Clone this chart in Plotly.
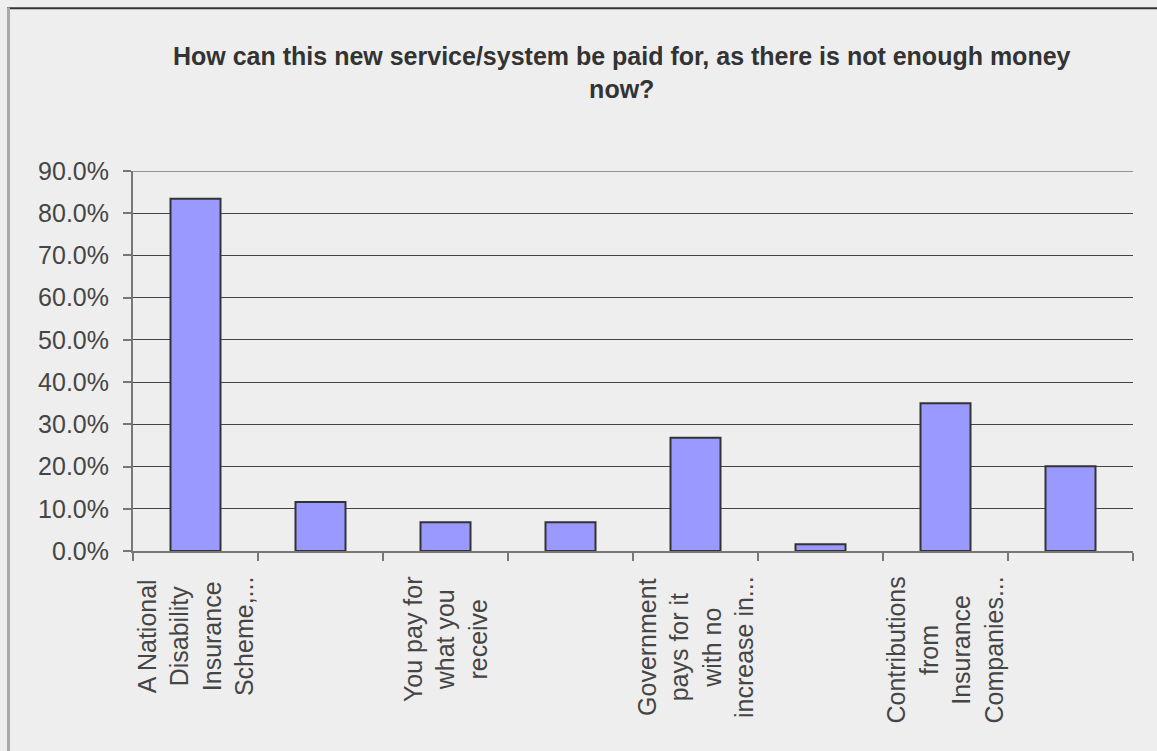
import plotly.graph_objects as go

# Survey responses: share of respondents choosing each funding option
positions = list(range(8))
labels = [
    "A National<br>Disability<br>Insurance<br>Scheme,...",
    "",
    "You pay for<br>what you<br>receive",
    "",
    "Government<br>pays for it<br>with no<br>increase in...",
    "",
    "Contributions<br>from<br>Insurance<br>Companies...",
    "",
]
shares = [0.834, 0.116, 0.068, 0.068, 0.268, 0.016, 0.350, 0.201]

title_text = ("<b>How can this new service/system be paid for, as there is not enough money"
              "<br>now?</b>")

BG = "#eeeeee"
TEXT = "#454545"
FONT = "Liberation Sans, Arial, sans-serif"

fig = go.Figure()
fig.add_trace(go.Bar(
    x=positions,
    y=shares,
    width=0.4,
    marker=dict(color="#9999ff", line=dict(color="#333333", width=2)),
    hoverinfo="skip",
))

# rotated category labels, top edge just below the axis
for pos, lab in zip(positions, labels):
    if not lab:
        continue
    fig.add_annotation(
        x=pos, xref="x",
        y=-0.062, yref="paper",
        text=lab, textangle=-90,
        xanchor="center", yanchor="top",
        align="center", showarrow=False,
        font=dict(family=FONT, size=25, color=TEXT),
    )

# chart title
fig.add_annotation(
    x=0.489, xref="paper", y=1.345, yref="paper",
    text=title_text, showarrow=False,
    xanchor="center", yanchor="top", align="center",
    font=dict(family=FONT, size=25, color="#333333"),
)

# top gridline at the upper end of the value range
fig.add_shape(type="line", xref="paper", yref="y",
              x0=0, x1=1, y0=0.9, y1=0.9,
              line=dict(color="#333333", width=1))

# frame lines along the top and left of the chart area
fig.add_shape(type="line", xref="paper", yref="paper",
              x0=-0.126, x1=1.03, y0=1.428, y1=1.428,
              line=dict(color="#333333", width=2))
fig.add_shape(type="line", xref="paper", yref="paper",
              x0=-0.1245, x1=-0.1245, y0=1.43, y1=-0.6,
              line=dict(color="#aaaaaa", width=3))

fig.update_layout(
    width=1157, height=751,
    margin=dict(l=133, r=24, t=171, b=200),
    paper_bgcolor=BG, plot_bgcolor=BG,
    showlegend=False,
    bargap=0.6,
    font=dict(family=FONT, color=TEXT),
)
fig.update_xaxes(
    range=[-0.5, 7.5],
    tickmode="array", tickvals=[p - 0.5 for p in positions] + [7.5],
    ticks="outside", ticklen=8, tickcolor="#777777", tickwidth=2,
    showticklabels=False, showgrid=False, zeroline=False,
    showline=True, linecolor="#777777", linewidth=2,
    fixedrange=True,
)
fig.update_yaxes(
    range=[0, 0.9], dtick=0.1, tickformat=".1%",
    ticks="outside", ticklen=8, tickcolor="#777777", tickwidth=2,
    tickfont=dict(size=25, color=TEXT),
    showgrid=True, gridcolor="#444444", gridwidth=1,
    zeroline=False, showline=True, linecolor="#777777", linewidth=2,
    ticklabelstandoff=9, fixedrange=True,
)

fig.write_html("out.html")
